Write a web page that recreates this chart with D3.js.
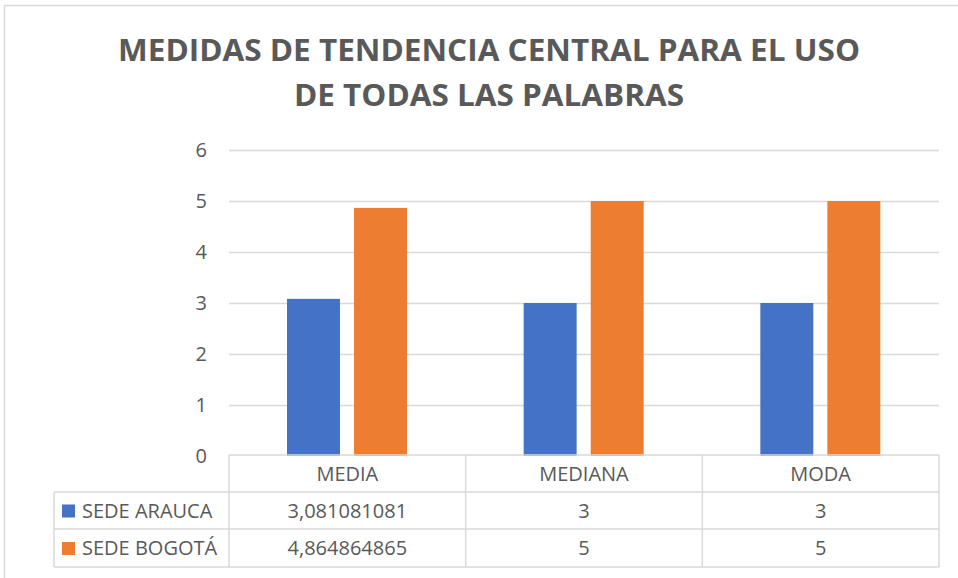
<!DOCTYPE html>
<meta charset="utf-8">
<head>
	<style type="text/css">
		body { margin: 0; background: #fff; }
		text { font-family: "Open Sans", sans-serif; fill: #595959; }
	</style>
	<title>Medidas de tendencia central</title>
</head>
<script src="https://cdn.jsdelivr.net/npm/d3@7"></script>

<svg width="958" height="578" id="svg1"></svg>

<script>
	// data
	const categories = ['MEDIA', 'MEDIANA', 'MODA'];
	const seriesNames = ['SEDE ARAUCA', 'SEDE BOGOTÁ'];
	const arauca = [3.081081081, 3, 3];
	const bogota = [4.864864865, 5, 5];
	const araucaLabels = ['3,081081081', '3', '3'];
	const bogotaLabels = ['4,864864865', '5', '5'];
	const yTicks = [0, 1, 2, 3, 4, 5, 6];
	const colors = ['#4472C4', '#ED7D31'];

	const svg1 = d3.select('#svg1');

	// chart frame
	svg1.append('rect')
		.attr('x', 4.5).attr('y', 5.5)
		.attr('width', 970).attr('height', 590)
		.attr('fill', 'none').attr('stroke', '#d9d9d9').attr('stroke-width', 1.5);

	// title
	const titleLines = [
		{ t: 'MEDIDAS DE TENDENCIA CENTRAL PARA EL USO', y: 61, w: 742 },
		{ t: 'DE TODAS LAS PALABRAS', y: 106, w: 390 }
	];
	svg1.selectAll('text.title')
		.data(titleLines)
		.enter().append('text')
			.attr('class', 'title')
			.attr('x', 489)
			.attr('y', d => d.y)
			.attr('text-anchor', 'middle')
			.attr('font-size', 30)
			.attr('font-weight', 'bold')
			.attr('textLength', d => d.w)
			.attr('lengthAdjust', 'spacingAndGlyphs')
			.text(d => d.t);

	const plotL = 229, plotR = 939, plotT = 150, plotB = 456;

	const x = d3.scaleBand().domain(categories).range([plotL, plotR]);
	const y = d3.scaleLinear().domain([0, 6]).range([plotB, plotT]);
	const x1 = d3.scaleBand().domain(seriesNames).range([58, 178]).paddingInner(0.21);

	// gridlines
	svg1.append('g').selectAll('line')
		.data(yTicks.filter(d => d > 0))
		.enter().append('line')
			.attr('x1', plotL).attr('x2', plotR)
			.attr('y1', d => y(d) + 0.5).attr('y2', d => y(d) + 0.5)
			.attr('stroke', '#d9d9d9').attr('stroke-width', 1.5);

	// y tick labels
	svg1.append('g').selectAll('text')
		.data(yTicks)
		.enter().append('text')
			.attr('x', 207)
			.attr('y', d => y(d))
			.attr('dy', '0.35em')
			.attr('text-anchor', 'end')
			.attr('font-size', 20)
			.text(d => d);

	// bars
	const series = [arauca, bogota];
	series.forEach((vals, si) => {
		svg1.append('g').selectAll('rect')
			.data(vals)
			.enter().append('rect')
				.attr('x', (d, i) => x(categories[i]) + x1(seriesNames[si]))
				.attr('y', d => y(d))
				.attr('width', x1.bandwidth())
				.attr('height', d => y(0) - y(d))
				.attr('fill', colors[si]);
	});

	// data table
	const rowH = [455, 492, 529, 567];
	const tbl = svg1.append('g').attr('stroke', '#d9d9d9').attr('stroke-width', 1.5);
	tbl.append('line').attr('x1', plotL).attr('x2', plotR).attr('y1', rowH[0]).attr('y2', rowH[0]);
	[1, 2, 3].forEach(k => {
		tbl.append('line').attr('x1', 54).attr('x2', plotR).attr('y1', rowH[k]).attr('y2', rowH[k]);
	});
	tbl.append('line').attr('x1', 54).attr('x2', 54).attr('y1', rowH[1]).attr('y2', rowH[3]);
	categories.forEach(c => {
		tbl.append('line').attr('x1', x(c)).attr('x2', x(c)).attr('y1', rowH[0]).attr('y2', rowH[3]);
	});
	tbl.append('line').attr('x1', plotR).attr('x2', plotR).attr('y1', rowH[0]).attr('y2', rowH[3]);

	// header labels
	svg1.append('g').selectAll('text')
		.data(categories)
		.enter().append('text')
			.attr('x', d => x(d) + x.bandwidth() / 2)
			.attr('y', (rowH[0] + rowH[1]) / 2)
			.attr('dy', '0.35em')
			.attr('text-anchor', 'middle')
			.attr('font-size', 20)
			.text(d => d);

	// rows
	const rowLabels = [araucaLabels, bogotaLabels];
	seriesNames.forEach((s, si) => {
		const cy = (rowH[si + 1] + rowH[si + 2]) / 2;
		svg1.append('rect')
			.attr('x', 62).attr('y', cy - 6)
			.attr('width', 13).attr('height', 13)
			.attr('fill', colors[si]);
		svg1.append('text')
			.attr('x', 82).attr('y', cy)
			.attr('dy', '0.35em')
			.attr('font-size', 20)
			.text(s);
		svg1.append('g').selectAll('text')
			.data(rowLabels[si])
			.enter().append('text')
				.attr('x', (d, i) => x(categories[i]) + x.bandwidth() / 2)
				.attr('y', cy)
				.attr('dy', '0.35em')
				.attr('text-anchor', 'middle')
				.attr('font-size', 20)
				.text(d => d);
	});
</script>
